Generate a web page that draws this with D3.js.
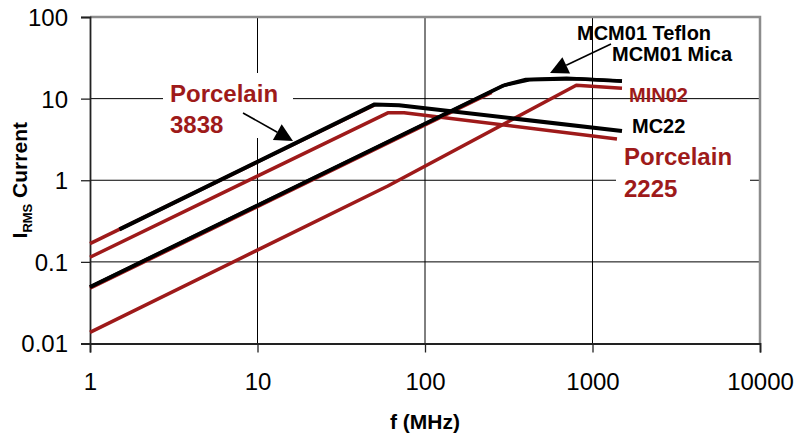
<!DOCTYPE html>
<html>
<head>
<meta charset="utf-8">
<script src="https://cdn.jsdelivr.net/npm/d3@7"></script>
<style>
  body { margin: 0; background: #fff; }
  svg { display: block; font-family: "Liberation Sans", Arial, sans-serif; }
</style>
</head>
<body>
<div class="chart"></div>
<script>
(function() {
  'use strict';

  // tick values
  var freqTicks = [1, 10, 100, 1000, 10000];
  var currentTicks = [0.01, 0.1, 1, 10, 100];

  // series, [f (MHz), I rms]
  var porcelain3838 = [[1, 0.167], [50, 8.4]];
  var mc22 = [[1.5, 0.25], [50, 8.5], [70, 8.3], [1500, 4.0]];
  var porcelain2225 = [[1, 0.114], [60, 6.7], [75, 6.7], [1400, 3.2]];
  var min02 = [[1, 0.0137], [60, 0.85], [800, 14.6], [1500, 13.4]];
  var mcm01Under = [[1, 0.0475], [250, 11.9]];
  var mcm01Teflon = [[1, 0.049], [300, 14.7], [400, 17.2], [700, 17.8], [1500, 16.5]];
  var mcm01Mica = [[1, 0.0495], [290, 14.4], [420, 17.0], [800, 17.5], [1500, 16.3]];

  var red = "#9e1a1a";
  var width = 798, height = 440;

  var svg = d3.select(".chart").append("svg")
    .attr("width", width)
    .attr("height", height);

  var x = d3.scaleLog().domain([1, 10000]).range([90, 760]);
  var y = d3.scaleLog().domain([0.01, 100]).range([343.5, 17]);

  // gridlines
  svg.append("g").selectAll("line")
    .data(currentTicks.slice(1, 4))
    .enter().append("line")
    .attr("x1", x(1)).attr("x2", x(10000))
    .attr("y1", function(d) { return y(d); })
    .attr("y2", function(d) { return y(d); })
    .attr("stroke", "#000").attr("stroke-width", 1);

  svg.append("g").selectAll("line")
    .data(freqTicks.slice(1, 4))
    .enter().append("line")
    .attr("y1", y(0.01)).attr("y2", y(100))
    .attr("x1", function(d) { return x(d); })
    .attr("x2", function(d) { return x(d); })
    .attr("stroke", "#000").attr("stroke-width", 1);

  // frame top/right (gray)
  svg.append("path")
    .attr("d", "M" + x(1) + "," + y(100) + "H" + x(10000) + "V" + y(0.01))
    .attr("fill", "none").attr("stroke", "#8c8c8c").attr("stroke-width", 2.5);

  // white boxes behind annotations
  svg.append("rect").attr("x", 163).attr("y", 73).attr("width", 130).attr("height", 65).attr("fill", "#fff");
  svg.append("rect").attr("x", 616).attr("y", 142).attr("width", 134).attr("height", 60).attr("fill", "#fff");

  // axes
  var xAxis = d3.axisBottom(x).tickValues(freqTicks).tickFormat(d3.format("d")).tickSize(9).tickPadding(20);
  var yAxis = d3.axisLeft(y).tickValues(currentTicks).tickFormat(function(d) { return String(d); }).tickSize(9).tickPadding(13);

  var gx = svg.append("g").attr("transform", "translate(0," + y(0.01) + ")").call(xAxis);
  var gy = svg.append("g").attr("transform", "translate(" + x(1) + ",0)").call(yAxis);

  [gx, gy].forEach(function(g) {
    g.select(".domain").attr("stroke", "#222").attr("stroke-width", 1.8);
    g.selectAll(".tick line").attr("stroke", "#222").attr("stroke-width", 1.3);
    g.selectAll(".tick text").attr("fill", "#000").style("font-size", "24px")
      .style("font-family", "'Liberation Sans', Arial, sans-serif");
  });
  gy.selectAll(".tick text").attr("dy", "0.35em");

  // series
  var line = d3.line()
    .x(function(d) { return x(d[0]); })
    .y(function(d) { return y(d[1]); });

  var series = [
    { data: porcelain3838, color: red, w: 3.5 },
    { data: min02, color: red, w: 3.5 },
    { data: porcelain2225, color: red, w: 3.5 },
    { data: mcm01Under, color: red, w: 3.5 },
    { data: mcm01Teflon, color: "#000", w: 3.5 },
    { data: mcm01Mica, color: "#000", w: 3.5 },
    { data: mc22, color: "#000", w: 4 }
  ];

  svg.append("g").selectAll("path")
    .data(series)
    .enter().append("path")
    .attr("d", function(d) { return line(d.data); })
    .attr("fill", "none")
    .attr("stroke", function(d) { return d.color; })
    .attr("stroke-width", function(d) { return d.w; })
    .attr("stroke-linejoin", "round");

  // labels
  function label(txt, lx, ly, size, color) {
    svg.append("text")
      .attr("x", lx).attr("y", ly)
      .attr("fill", color)
      .style("font-size", size + "px")
      .style("font-weight", "bold")
      .text(txt);
  }
  label("Porcelain", 170, 102, 24, red);
  label("3838", 170, 133, 24, red);
  label("MCM01 Teflon", 577, 40, 20, "#000");
  label("MCM01 Mica", 612, 61, 20, "#000");
  label("MIN02", 629, 102, 20, red);
  label("MC22", 632, 133, 20, "#000");
  label("Porcelain", 624, 165, 24, red);
  label("2225", 624, 197, 24, red);

  // arrows
  function arrow(x1, y1, x2, y2) {
    var dx = x2 - x1, dy = y2 - y1;
    var len = Math.sqrt(dx * dx + dy * dy);
    var ux = dx / len, uy = dy / len;
    var hl = 18, hw = 9;
    var bx = x2 - ux * hl, by = y2 - uy * hl;
    svg.append("line")
      .attr("x1", x1).attr("y1", y1).attr("x2", bx).attr("y2", by)
      .attr("stroke", "#000").attr("stroke-width", 1.6);
    svg.append("polygon")
      .attr("points", [[x2, y2], [bx - uy * hw, by + ux * hw], [bx + uy * hw, by - ux * hw]].join(" "))
      .attr("fill", "#000");
  }
  arrow(243, 113, 293, 141);
  arrow(611, 44, 550, 73);

  // axis titles
  svg.append("text")
    .attr("x", x(100)).attr("y", 429)
    .attr("text-anchor", "middle")
    .style("font-size", "21px").style("font-weight", "bold")
    .text("f (MHz)");

  var yt = svg.append("text")
    .attr("transform", "translate(27," + ((y(0.01) + y(100)) / 2) + ") rotate(-90)")
    .attr("text-anchor", "middle")
    .style("font-weight", "bold");
  yt.append("tspan").style("font-size", "21px").text("I");
  yt.append("tspan").style("font-size", "13px").attr("dy", 5).text("RMS");
  yt.append("tspan").style("font-size", "21px").attr("dy", -5).text(" Current");

})();
</script>
</body>
</html>
